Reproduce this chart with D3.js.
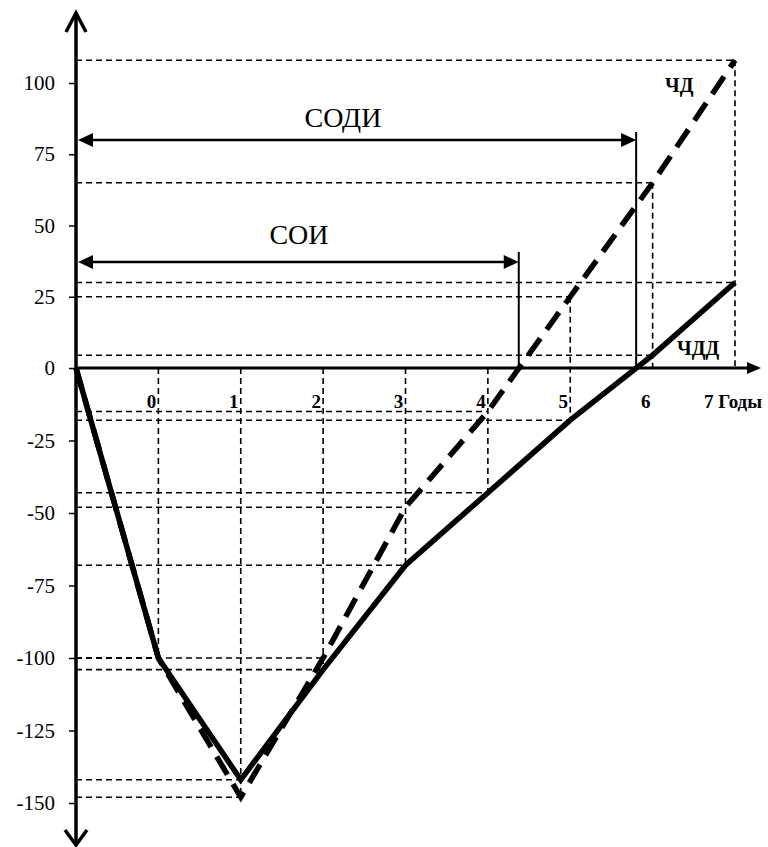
<!DOCTYPE html>
<html><head><meta charset="utf-8">
<script src="https://cdn.jsdelivr.net/npm/d3@7"></script>
<style>body{margin:0;background:#fff} text{font-family:"Liberation Serif","Times New Roman",serif;fill:#000}</style>
</head><body><svg id="c" width="768" height="847"></svg>
<script>
// ---- data ----
const periods = ["start","0","1","2","3","4","5","6","7"];
const periodLabels = ["", "0","1","2","3","4","5","6","7 Годы"];
const chd  = [0,-100,-148,-100,-48,-15,25,65,108];   // ЧД (dashed)
const chdd = [0,-100,-142,-104,-68,-43,-18,4.5,30];  // ЧДД (solid)
const yTicks = [100,75,50,25,0,-25,-50,-75,-100,-125,-150];

const svg = d3.select("#c");
const x = d3.scalePoint().domain(periods).range([76,735]);
const y = d3.scaleLinear().domain([-150,0,100]).range([803,368,83]);
const x0 = x(periods[0]), y0 = y(0);

// ---- dashed reference grid ----
const g = svg.append("g").attr("stroke","#000").attr("stroke-width",1.6).attr("stroke-dasharray","6,4").attr("fill","none");
periods.forEach((p,i)=>{
  if(i===0) return;
  const vals=[0,chd[i],chdd[i]];
  g.append("line").attr("x1",x(p)).attr("x2",x(p)).attr("y1",y(d3.max(vals))).attr("y2",y(d3.min(vals)));
  [chd[i],chdd[i]].forEach(v=>{
    if(v===0) return;
    g.append("line").attr("x1",x0).attr("x2",x(p)).attr("y1",y(v)).attr("y2",y(v));
  });
});

// ---- y axis ----
const ya = svg.append("g").attr("transform",`translate(${x0},0)`)
  .call(d3.axisLeft(y).tickValues(yTicks).tickSize(7).tickPadding(14).tickFormat(d=>String(d)));
ya.attr("font-family",null);
ya.select(".domain").remove();
ya.selectAll(".tick line").attr("stroke","#000").attr("stroke-width",1.5);
ya.selectAll(".tick text").style("font-family",'"Liberation Serif",serif').style("font-size","21px").attr("fill","#000");

svg.append("line").attr("x1",x0).attr("x2",x0).attr("y1",13).attr("y2",845).attr("stroke","#000").attr("stroke-width",3.5);
svg.append("polyline").attr("points",`${x0-10},32 ${x0},13 ${x0+10},32`).attr("fill","none").attr("stroke","#000").attr("stroke-width",3.5);
svg.append("polyline").attr("points",`${x0-11},830 ${x0},845 ${x0+11},830`).attr("fill","none").attr("stroke","#000").attr("stroke-width",3.5);

// ---- x axis ----
svg.append("line").attr("x1",x0).attr("x2",749).attr("y1",y0).attr("y2",y0).attr("stroke","#000").attr("stroke-width",3);
svg.append("polygon").attr("points",`747,${y0-6} 761,${y0} 747,${y0+6}`).attr("fill","#000");
periods.forEach((p,i)=>{
  if(i===0) return;
  const last = i===periods.length-1;
  svg.append("text").attr("x", last ? x(p)-31 : x(p)-7).attr("y",408)
    .attr("text-anchor", last ? "start" : "middle")
    .style("font-size","19px").style("font-weight","bold").text(periodLabels[i]);
});

// ---- series lines ----
const line = d3.line().x((d,i)=>x(periods[i])).y(d=>y(d));
svg.append("path").datum(chd).attr("d",line).attr("fill","none").attr("stroke","#000")
  .attr("stroke-width",5.5).attr("stroke-dasharray","21,11");
svg.append("path").datum(chdd).attr("d",line).attr("fill","none").attr("stroke","#000")
  .attr("stroke-width",5.5).attr("stroke-linejoin","miter");

// ---- payback periods (zero crossings) ----
function crossing(vals){
  for(let i=0;i<vals.length-1;i++){
    if(i>0 && vals[i]<0 && vals[i+1]>=0){
      const t=-vals[i]/(vals[i+1]-vals[i]);
      return x(periods[i])+t*(x(periods[i+1])-x(periods[i]));
    }
  }
}
function spanArrow(xe, ya, yTop, label, tx, ty){
  svg.append("line").attr("x1",x0+14).attr("x2",xe-14).attr("y1",ya).attr("y2",ya).attr("stroke","#000").attr("stroke-width",2.5);
  svg.append("polygon").attr("points",`${x0+2},${ya} ${x0+17},${ya-7} ${x0+17},${ya+7}`).attr("fill","#000");
  svg.append("polygon").attr("points",`${xe},${ya} ${xe-15},${ya-7} ${xe-15},${ya+7}`).attr("fill","#000");
  svg.append("line").attr("x1",xe).attr("x2",xe).attr("y1",yTop).attr("y2",y0).attr("stroke","#000").attr("stroke-width",2);
  svg.append("text").attr("x",tx).attr("y",ty).attr("text-anchor","middle").style("font-size","28px").text(label);
}
spanArrow(crossing(chdd), 140, 132, "СОДИ", 343, 127);
spanArrow(crossing(chd), 262, 252, "СОИ", 299, 244);

// ---- series labels ----
svg.append("text").attr("x",665).attr("y",92).style("font-size","20px").style("font-weight","bold").text("ЧД");
svg.append("text").attr("x",677).attr("y",355).style("font-size","20px").style("font-weight","bold").text("ЧДД");
</script></body></html>
